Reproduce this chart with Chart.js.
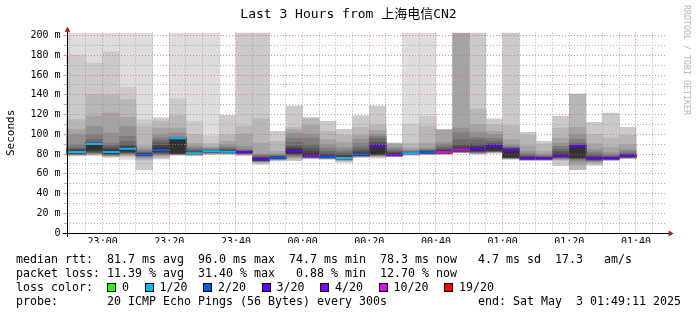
<!DOCTYPE html>
<html>
<head>
<meta charset="utf-8">
<title>Last 3 Hours from 上海电信CN2</title>
<script src="https://cdn.jsdelivr.net/npm/chart.js@4.4.1/dist/chart.umd.min.js"></script>
<style>
    html, body { margin: 0; padding: 0; background: #fff; }
    #graph { position: relative; width: 697px; height: 315px; overflow: hidden; font-family: 'DejaVu Sans Mono', monospace; color: #000; }
    #graph canvas { position: absolute; left: 0; top: 0; }
    .title { position: absolute; left: 0; top: 6px; width: 697px; text-align: center; font-size: 13px; line-height: 16px;
             font-family: 'DejaVu Sans Mono', 'Noto Sans CJK SC', monospace; white-space: pre; }
    .watermark { position: absolute; left: 691px; top: 5px; transform: rotate(90deg); transform-origin: 0 0;
                 font-size: 8.3px; line-height: 9px; color: #b4b4b4; white-space: pre; }
    .legend { position: absolute; left: 16px; top: 252px; font-size: 11.63px; line-height: 14px; white-space: pre; }
    .box { display: inline-block; width: 7px; height: 7px; border: 1px solid #000; vertical-align: -1px; margin-right: 6px; }
    .lbl { margin-right: 15.5px; }
</style>
</head>
<body>
<div id="graph">
    <canvas id="smoke" width="697" height="315"></canvas>
    <div class="title">Last 3 Hours from 上海电信CN2</div>
    <div class="watermark">RRDTOOL / TOBI OETIKER</div>
    <div class="legend"><div>median rtt:  81.7 ms avg  96.0 ms max  74.7 ms min  78.3 ms now   4.7 ms sd  17.3   am/s</div><div>packet loss: 11.39 % avg  31.40 % max   0.88 % min  12.70 % now</div><div id="loss-legend">loss color:  </div><div>probe:       20 ICMP Echo Pings (56 Bytes) every 300s             end: Sat May  3 01:49:11 2025</div></div>
</div>
<script>
// ---- time window / ticks ----
const windowStart = '22:49:11';
const windowEnd = '01:49:11';
const timeLabels = ['23:00', '23:20', '23:40', '00:00', '00:20', '00:40', '01:00', '01:20', '01:40'];
const yLabels = [0, 20, 40, 60, 80, 100, 120, 140, 160, 180, 200];

// ---- one column per 5 min step (end time of the step) ----
const colEnds = ['22:50', '22:55', '23:00', '23:05', '23:10', '23:15', '23:20', '23:25', '23:30', '23:35',
                 '23:40', '23:45', '23:50', '23:55', '00:00', '00:05', '00:10', '00:15', '00:20', '00:25',
                 '00:30', '00:35', '00:40', '00:45', '00:50', '00:55', '01:00', '01:05', '01:10', '01:15',
                 '01:20', '01:25', '01:30', '01:35', '01:40'];

// median rtt (ms)
const medianMs = [82.1, 82.1, 90.3, 82.0, 85.5, 79.4, 84.1, 96.0, 80.8, 82.8,
                  82.4, 81.8, 74.7, 76.4, 83.2, 78.1, 77.4, 76.1, 79.7, 88.2,
                  79.4, 80.8, 81.8, 82.1, 84.5, 85.5, 88.2, 84.1, 75.7, 75.7,
                  78.1, 87.9, 75.7, 75.7, 78.3];

// lost pings out of 20
const lossPings = [0.9, 0.9, 0.8, 1.0, 0.7, 1.6, 1.8, 0.9, 1.0, 0.6,
                   0.8, 2.7, 2.6, 1.7, 2.5, 3.4, 1.9, 0.18, 1.6, 2.4,
                   3.5, 0.9, 1.8, 6.28, 5.6, 2.6, 2.5, 2.6, 2.4, 2.7,
                   2.5, 2.6, 2.6, 2.7, 2.54];

// smoke: upper ping of each pair, outer pair first (null = lost)
const smokeHigh = [
    [203, 180, 115, 104.7, 99.7, 89.5, 86.2, 85, 84, 83],
    [203, 180, 115, 104.7, 99.7, 89.5, 86.2, 85, 84, 83],
    [203, 172.3, 140.2, 118.3, 108, 99.7, 94.6, 92, 91, 90.8],
    [203, 183.5, 140.2, 121.6, 101.4, 91.2, 88.9, 86.8, 85.1, 83.5],
    [203, 147.7, 135.2, 117.2, 108.1, 98, 92.9, 89.5, 87.8, 86.2],
    [203, 114.9, 108, 88, 85, 83, 82, 81, 80.5, 80],
    [null, 116.6, 113.2, 106.4, 99.7, 96.3, 93.6, 91.2, 88.9, 86.2],
    [203, 136, 119, 106.4, 101.4, 97.5, 96.8, 96.5, 96.3, 96.1],
    [203, 113.2, 99.7, 91, 88, 86, 84.5, 83, 82, 81.3],
    [203, 98.5, 91, 87.5, 86, 85, 84.3, 83.8, 83.3, 83],
    [null, 119.3, 99.7, 92.9, 89.5, 87.2, 85.5, 84.5, 83.8, 83.1],
    [null, 203, 108.1, 100.3, 87.8, 84.5, 83.5, 83, 82.5, 82.2],
    [null, 203, 115.9, 91.2, 80, 79, 78, 77, 76.5, 75.5],
    [null, 103.1, 92.9, 82.8, 80, 79, 78.3, 77.8, 77.3, 76.9],
    [null, 129, 107, 104.5, 101, 96.3, 92, 87.8, 86, 84.5],
    [null, null, 116.6, 109.1, 100.3, 96, 89.5, 86, 83, 80.5],
    [null, 113.2, 103.1, 94.6, 89.5, 86, 82.8, 80.5, 79.2, 78.2],
    [105.1, 105, 99, 92, 86.5, 84, 82, 80, 78.5, 77],
    [null, 119, 107, 99, 95, 91, 86.5, 84, 82, 80.8],
    [null, 129, 110, 104, 100, 98, 96, 92.5, 90, 88.8],
    [null, null, 91.2, 90, 87, 85, 83.5, 82, 81, 80.2],
    [203, 110.5, 91.2, 86.2, 84, 83, 82.3, 81.8, 81.4, 81.1],
    [203, 118.3, 108.1, 91.2, 86, 84.5, 83.8, 83.2, 82.6, 82.2],
    [null, null, null, 104.7, 92, 89.5, 87, 85, 84, 83],
    [null, null, null, 203, 106.4, 101.4, 94.6, 89.5, 87.5, 85.5],
    [null, 203, 125.7, 109.8, 102.4, 97, 94.6, 90, 88, 86.5],
    [null, 115.6, 110, 103, 99.7, 96, 92.9, 90.5, 89.5, 88.8],
    [null, 203, 108.8, 94.6, 89.5, 87.5, 86.5, 86, 85.3, 84.7],
    [null, 102, 99, 88, 83, 80.5, 79, 78, 77, 76.3],
    [null, 92.9, 90, 82.8, 80, 78.5, 77.5, 77, 76.5, 76.1],
    [null, 118.3, 106.4, 96.3, 91, 87.8, 85, 82.8, 80.5, 79],
    [null, null, 140.9, 107, 99.7, 95, 91.2, 89.5, 88.8, 88.3],
    [null, 112.2, 99.7, 90.5, 84.5, 82, 80, 78.3, 77.2, 76.3],
    [null, 121.6, 96.3, 87, 81.5, 79.5, 78, 77.2, 76.6, 76.2],
    [null, 107.1, 99, 89.5, 84.5, 82.5, 81, 80, 79.3, 78.8]
];

// smoke: lower ping of each pair, outer pair first
const smokeLow = [
    [78, 78.5, 79, 79.2, 79.5, 79.8, 80, 80.5, 81, 81.5],
    [78, 78.5, 79, 79.2, 79.5, 79.8, 80, 80.5, 81, 81.5],
    [78.5, 79, 79.5, 80, 80.5, 81, 81.5, 82, 83, 84],
    [76.5, 77, 77.5, 78, 78.5, 79, 79.5, 80, 80.5, 81],
    [74.5, 77, 78, 79, 80, 80.5, 81, 81.5, 82, 83],
    [64, 64.5, 74, 75, 76.5, 77.5, 78, 78.5, 79, 79.2],
    [null, 75, 76.5, 78, 79, 80, 80.5, 81, 82, 83],
    [78.5, 79, 79.4, 79.6, 79.8, 80, 80.2, 80.4, 80.6, 80.8],
    [78.5, 78.8, 79, 79.2, 79.4, 79.6, 79.8, 80, 80.3, 80.5],
    [79.5, 80, 80.2, 80.5, 80.8, 81.1, 81.4, 81.7, 82, 82.3],
    [null, 79.8, 80.2, 80.4, 80.7, 81, 81.2, 81.5, 81.8, 82],
    [null, 78.5, 79, 79.5, 80, 80.4, 80.7, 81, 81.2, 81.5],
    [null, 69.6, 71, 72, 72.4, 72.7, 73, 73.2, 73.5, 74],
    [null, 73, 73.8, 74.2, 74.5, 74.8, 75.1, 75.4, 75.7, 76],
    [null, 73.3, 74.5, 76, 77, 78, 79, 80, 80.5, 81],
    [null, null, 75.7, 76, 76.2, 76.4, 76.7, 77, 77.2, 77.5],
    [null, 74.8, 75, 75.3, 75.5, 75.8, 76, 76.3, 76.5, 76.8],
    [70.9, 72.5, 73, 73.5, 74, 74.4, 74.7, 75, 75.3, 75.6],
    [null, 76.7, 77, 77.3, 77.6, 78, 78.2, 78.4, 78.7, 79],
    [null, 76, 77, 78, 78.3, 78.7, 79, 79.4, 79.7, 80],
    [null, null, 77.3, 77.5, 77.8, 78, 78.2, 78.4, 78.6, 78.8],
    [78.5, 79, 79.3, 79.6, 79.8, 80, 80.1, 80.2, 80.3, 80.4],
    [79.4, 79.6, 79.8, 80, 80.2, 80.4, 80.6, 80.8, 81, 81.3],
    [null, null, null, 79.8, 80.2, 80.5, 80.8, 81, 81.2, 81.5],
    [null, null, null, 81.4, 81.8, 82.1, 82.4, 82.7, 83, 83.5],
    [null, 80, 80.4, 80.8, 81.2, 81.6, 82, 82.5, 83, 83.5],
    [null, 81, 81.5, 81.8, 82.1, 82.4, 82.7, 83, 83.5, 84],
    [null, 74.8, 75.2, 75.5, 75.8, 76, 76.2, 76.4, 76.7, 77],
    [null, 73.6, 73.8, 74, 74.2, 74.4, 74.6, 74.8, 75, 75.2],
    [null, 73.5, 73.8, 74, 74.2, 74.4, 74.6, 74.8, 75, 75.3],
    [null, 68.3, 73.5, 74.2, 75, 75.5, 76, 76.5, 77, 77.3],
    [null, null, 64.3, 69, 72, 74, 75, 75.5, 76, 76.5],
    [null, 68.6, 70, 71.5, 72.5, 73, 73.5, 74, 74.5, 75],
    [null, 73.6, 73.8, 74, 74.2, 74.4, 74.6, 74.8, 75, 75.3],
    [null, 75.4, 75.7, 76, 76.2, 76.4, 76.7, 77, 77.2, 77.5]
];

// loss color legend
const lossNames = ['0', '1/20', '2/20', '3/20', '4/20', '10/20', '19/20'];
const lossLimits = [0, 1, 2, 3, 4, 10, 19];
const lossColors = ['#26ff00', '#00b8ff', '#0059ff', '#5e00ff', '#7e00ff', '#dd00ff', '#ff0000'];

// ---- helpers ----
// minutes relative to 23:00
function toMinutes(str) {
    const p = str.split(':').map(Number);
    let m = p[0] * 60 + p[1] + (p[2] || 0) / 60 - 23 * 60;
    if (m < -120) m += 24 * 60;
    return m;
}

function lossColor(loss) {
    for (let i = 0; i < lossLimits.length; i++) {
        if (loss <= lossLimits[i]) return lossColors[i];
    }
    return lossColors[lossColors.length - 1];
}

// smokeping gray for pair i (1 = outermost)
function smokeShade(i) {
    const g = Math.floor(190 / 10 * (10 - i)) + 50;
    return `rgb(${g},${g},${g})`;
}

const xMin = toMinutes(windowStart);
const xMax = toMinutes(windowEnd);
const colCenters = colEnds.map((t) => toMinutes(t) - 2.5);

// legend boxes
document.getElementById('loss-legend').innerHTML += lossNames.map((n, i) =>
    `<span class="box" style="background:${lossColors[i]}"></span><span class="lbl">${n}</span>`).join('');

// ---- datasets ----
const datasets = [];
for (let i = 0; i < 10; i++) {
    const data = [];
    colCenters.forEach((x, k) => {
        if (smokeHigh[k][i] == null) return;
        data.push({ x: x, y: [smokeLow[k][i], smokeHigh[k][i]] });
    });
    datasets.push({
        type: 'bar',
        data: data,
        backgroundColor: smokeShade(i + 1),
        borderWidth: 0,
        grouped: false,
        barPercentage: 1,
        categoryPercentage: 1,
        order: 10 - i
    });
}

datasets.push({
    type: 'line',
    data: colCenters.map((x, k) => ({ x: x, y: medianMs[k] })),
    showLine: false,
    pointStyle: 'line',
    pointRadius: 8.33,
    pointHoverRadius: 8.33,
    pointBorderWidth: 2,
    pointBorderColor: lossPings.map(lossColor),
    pointBackgroundColor: lossPings.map(lossColor),
    clip: 0,
    order: 0
});

// ---- axis lines with arrows (rrdtool style) ----
const axisArrows = {
    id: 'axisArrows',
    afterDraw(chart) {
        const { ctx, chartArea: a } = chart;
        const x0 = Math.round(a.left) + 0.5;
        const y0 = Math.round(a.bottom) + 0.5;
        ctx.save();
        ctx.strokeStyle = '#000';
        ctx.lineWidth = 1;
        ctx.beginPath();
        ctx.moveTo(a.left - 4, y0);
        ctx.lineTo(a.right + 3, y0);
        ctx.moveTo(x0, a.bottom + 4);
        ctx.lineTo(x0, a.top - 2);
        ctx.stroke();
        ctx.fillStyle = '#a01e1e';
        ctx.beginPath();
        ctx.moveTo(a.right + 2, y0 - 3);
        ctx.lineTo(a.right + 7, y0);
        ctx.lineTo(a.right + 2, y0 + 3);
        ctx.closePath();
        ctx.fill();
        ctx.beginPath();
        ctx.moveTo(x0 - 3, a.top - 1);
        ctx.lineTo(x0, a.top - 6);
        ctx.lineTo(x0 + 3, a.top - 1);
        ctx.closePath();
        ctx.fill();
        ctx.restore();
    }
};

const majorGrid = 'rgba(225, 90, 90, 0.7)';
const minorGrid = 'rgba(150, 150, 150, 0.75)';

Chart.defaults.font.family = "'DejaVu Sans Mono', monospace";
Chart.defaults.color = '#000';

new Chart(document.getElementById('smoke'), {
    type: 'bar',
    data: { datasets: datasets },
    options: {
        responsive: false,
        devicePixelRatio: 1,
        animation: false,
        events: [],
        layout: { padding: { left: 0, top: 32.7, right: 30.4, bottom: 72 } },
        plugins: {
            legend: { display: false },
            tooltip: { enabled: false },
            title: { display: false }
        },
        scales: {
            x: {
                type: 'linear',
                min: xMin,
                max: xMax,
                bounds: 'data',
                offset: false,
                afterBuildTicks: (scale) => {
                    const ticks = [];
                    for (let m = Math.ceil(xMin / 5) * 5; m <= xMax; m += 5) ticks.push({ value: m });
                    scale.ticks = ticks;
                },
                afterFit: (scale) => { scale.height = 10; },
                grid: {
                    offset: false,
                    z: 1,
                    color: (c) => (c.tick && c.tick.value % 20 === 0 ? majorGrid : minorGrid),
                    tickColor: 'transparent',
                    tickLength: 3
                },
                border: { display: false, dash: [1, 2] },
                ticks: {
                    autoSkip: false,
                    maxRotation: 0,
                    padding: 0,
                    font: { size: 10 },
                    callback: (v) => {
                        const hit = timeLabels.find((t) => Math.abs(toMinutes(t) - v) < 0.01);
                        return hit || '';
                    }
                }
            },
            y: {
                min: 0,
                max: 203,
                bounds: 'data',
                afterBuildTicks: (scale) => {
                    const ticks = [];
                    for (let v = 0; v <= yLabels[yLabels.length - 1]; v += 10) ticks.push({ value: v });
                    scale.ticks = ticks;
                },
                afterFit: (scale) => { scale.width = 66.6; },
                grid: {
                    z: 1,
                    color: (c) => (c.tick && c.tick.value % 20 === 0 ? majorGrid : minorGrid),
                    tickLength: 3
                },
                border: { display: false, dash: [1, 2] },
                title: {
                    display: true,
                    text: 'Seconds',
                    font: { size: 11 },
                    padding: { top: 5, bottom: 0 }
                },
                ticks: {
                    autoSkip: false,
                    padding: 3,
                    font: { size: 10 },
                    callback: (v) => {
                        if (!yLabels.includes(v)) return '';
                        return v === 0 ? '0' : v + ' m';
                    }
                }
            }
        }
    },
    plugins: [axisArrows]
});
</script>
</body>
</html>
